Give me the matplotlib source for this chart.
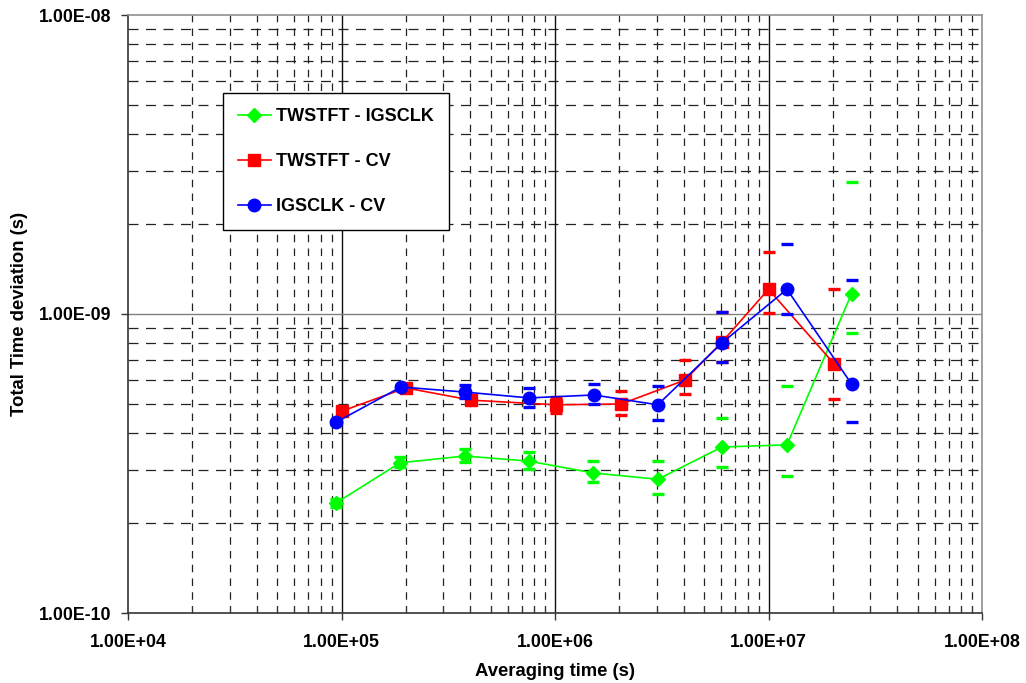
import matplotlib
matplotlib.use("Agg")
import matplotlib.pyplot as plt
from matplotlib.ticker import FixedLocator, NullFormatter, FixedFormatter

plt.rcParams['font.family'] = ['Liberation Sans', 'DejaVu Sans']

# --- data ---
tau_g = [9.4e4, 1.88e5, 3.78e5, 7.55e5, 1.51e6, 3.03e6, 6.05e6, 1.22e7, 2.45e7]
tdev_g = [2.33e-10, 3.18e-10, 3.35e-10, 3.22e-10, 2.94e-10, 2.80e-10, 3.59e-10, 3.65e-10, 1.17e-9]
hi_g = [2.40e-10, 3.33e-10, 3.53e-10, 3.45e-10, 3.22e-10, 3.22e-10, 4.49e-10, 5.74e-10, 2.76e-9]
lo_g = [2.26e-10, 3.08e-10, 3.20e-10, 3.03e-10, 2.74e-10, 2.50e-10, 3.08e-10, 2.87e-10, 8.63e-10]

tau_r = [1.01e5, 2.0e5, 4.05e5, 1.01e6, 2.04e6, 4.06e6, 6.05e6, 1.0e7, 2.03e7]
tdev_r = [4.74e-10, 5.66e-10, 5.15e-10, 4.97e-10, 5.0e-10, 6.01e-10, 8.05e-10, 1.21e-9, 6.81e-10]
hi_r = [4.81e-10, 5.74e-10, 5.27e-10, 5.27e-10, 5.52e-10, 7.02e-10, 1.017e-9, 1.61e-9, 1.21e-9]
lo_r = [4.66e-10, 5.57e-10, 5.04e-10, 4.66e-10, 4.59e-10, 5.40e-10, 6.90e-10, 1.007e-9, 5.20e-10]

tau_b = [9.45e4, 1.9e5, 3.8e5, 7.55e5, 1.52e6, 3.03e6, 6.05e6, 1.22e7, 2.45e7]
tdev_b = [4.35e-10, 5.70e-10, 5.48e-10, 5.24e-10, 5.36e-10, 4.97e-10, 8.0e-10, 1.21e-9, 5.83e-10]
hi_b = [4.40e-10, 5.78e-10, 5.79e-10, 5.66e-10, 5.83e-10, 5.74e-10, 1.017e-9, 1.71e-9, 1.30e-9]
lo_b = [4.30e-10, 5.60e-10, 5.24e-10, 4.89e-10, 5.00e-10, 4.41e-10, 6.90e-10, 1.0e-9, 4.35e-10]

labels = ['TWSTFT - IGSCLK', 'TWSTFT - CV', 'IGSCLK - CV']
xticklabels = ['1.00E+04', '1.00E+05', '1.00E+06', '1.00E+07', '1.00E+08']
yticklabels = ['1.00E-10', '1.00E-09', '1.00E-08']

fig = plt.figure(figsize=(10.26, 6.83), dpi=100)
ax = fig.add_axes([128/1026, (683-613)/683, 854/1026, 598/683])
ax.set_xscale('log')
ax.set_yscale('log')
ax.set_xlim(1e4, 1e8)
ax.set_ylim(1e-10, 1e-8)

# grid lines
xmin = [m * 10**e for e in range(4, 8) for m in range(2, 10)]
ymin = [m * 10.0**e for e in (-10, -9) for m in range(2, 10)]
for xv in xmin:
    ax.axvline(xv, color='#222222', lw=0.9, ls=(0, (6, 5)), zorder=0.5)
for yv in ymin:
    ax.axhline(yv, color='#222222', lw=0.9, ls=(0, (8, 6)), zorder=0.5)
for xv in [1e5, 1e6, 1e7]:
    ax.axvline(xv, color='#111111', lw=1.0, zorder=0.6)
ax.axhline(1e-9, color='#808080', lw=1.0, zorder=0.6)

series = [
    (tau_g, tdev_g, hi_g, lo_g, '#00FF00', 'D', 7.5),
    (tau_r, tdev_r, hi_r, lo_r, '#FF0000', 's', 8.5),
    (tau_b, tdev_b, hi_b, lo_b, '#0000FF', 'o', 9),
]
for i, (x, y, hi, lo, c, m, ms) in enumerate(series):
    ax.plot(x, hi, ls='none', marker='_', ms=9, mew=2.4, color=c, zorder=2 + i)
    ax.plot(x, lo, ls='none', marker='_', ms=9, mew=2.4, color=c, zorder=2 + i)
    ax.plot(x, y, color=c, lw=1.2, marker=m, ms=ms, mec=c, mfc=c, label=labels[i], zorder=2 + i)

# ticks
ax.xaxis.set_major_locator(FixedLocator([1e4, 1e5, 1e6, 1e7, 1e8]))
ax.xaxis.set_major_formatter(FixedFormatter(xticklabels))
ax.xaxis.set_minor_locator(FixedLocator(xmin))
ax.xaxis.set_minor_formatter(NullFormatter())
ax.yaxis.set_major_locator(FixedLocator([1e-10, 1e-9, 1e-8]))
ax.yaxis.set_major_formatter(FixedFormatter(yticklabels))
ax.yaxis.set_minor_locator(FixedLocator(ymin))
ax.yaxis.set_minor_formatter(NullFormatter())
ax.tick_params(axis='both', which='major', direction='out', length=5, width=1,
               labelsize=12.8, color='#333333')
ax.tick_params(axis='x', which='major', pad=10)
ax.tick_params(axis='y', which='major', pad=7)
ax.tick_params(axis='x', which='minor', direction='in', length=5, width=0.8, color='#333333')
ax.tick_params(axis='y', which='minor', length=0)
for lab in ax.get_xticklabels() + ax.get_yticklabels():
    lab.set_fontweight('bold')

ax.spines['left'].set_color('#333333')
ax.spines['bottom'].set_color('#333333')
ax.spines['top'].set_color('#909090')
ax.spines['right'].set_color('#909090')
for s in ax.spines.values():
    s.set_linewidth(1.2)

ax.set_xlabel('Averaging time (s)', fontsize=13.3, fontweight='bold')
ax.set_ylabel('Total Time deviation (s)', fontsize=13.3, fontweight='bold')
ax.xaxis.set_label_coords(0.5, -(672 - 613) / 598)
ax.yaxis.set_label_coords((20 - 128) / 854, 0.5)
ax.xaxis.label.set_va('center')
ax.yaxis.label.set_va('center')

leg = ax.legend(loc='upper left', bbox_to_anchor=(0.111, 0.870), frameon=True, fancybox=False,
                edgecolor='black', framealpha=1, prop={'weight': 'bold', 'size': 13},
                labelspacing=1.55, handlelength=1.8, borderpad=0.85, handletextpad=0.3,
                borderaxespad=0)
leg.get_frame().set_linewidth(1.0)
leg.set_zorder(10)

fig.savefig('out.png', dpi=100)
